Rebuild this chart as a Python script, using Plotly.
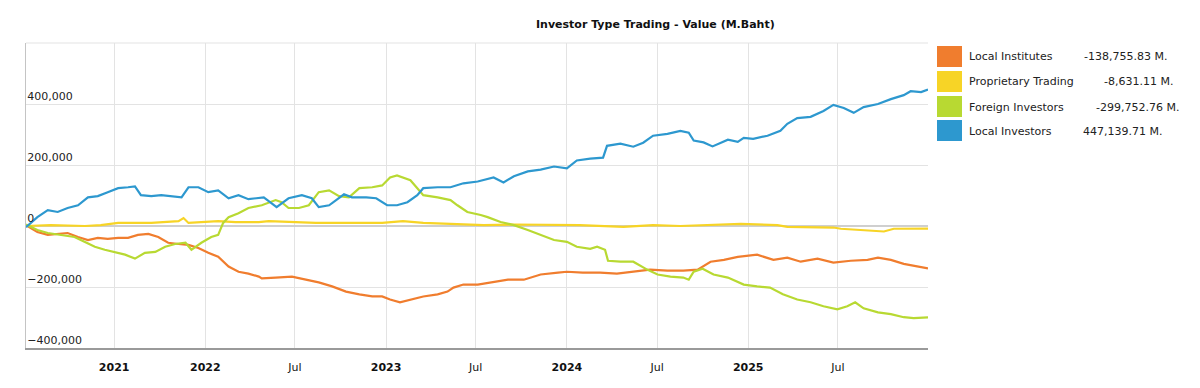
import plotly.graph_objects as go

# ---------------- data (M.Baht, cumulative net) ----------------
series_names = ["Local Institutes", "Proprietary Trading", "Foreign Investors", "Local Investors"]
latest_values = [-138755.83, -8631.11, -299752.76, 447139.71]
series_colors = ["#F07D2E", "#F7D426", "#B8D932", "#2D98CF"]

local_inst_dates = ["2021-01-04", "2021-01-27", "2021-02-17", "2021-03-09", "2021-03-29", "2021-04-19", "2021-05-09",
    "2021-05-29", "2021-06-18", "2021-07-09", "2021-07-29", "2021-08-18", "2021-09-08", "2021-09-28", "2021-10-18",
    "2021-11-08", "2021-11-28", "2021-12-18", "2022-01-07", "2022-01-27", "2022-02-17", "2022-03-09", "2022-03-29",
    "2022-04-19", "2022-04-25", "2022-05-23", "2022-06-25", "2022-07-23", "2022-08-18", "2022-09-14", "2022-10-12",
    "2022-11-08", "2022-12-04", "2022-12-24", "2023-01-09", "2023-01-29", "2023-02-19", "2023-03-17", "2023-04-15",
    "2023-05-05", "2023-05-17", "2023-06-06", "2023-07-05", "2023-07-31", "2023-09-04", "2023-10-06", "2023-11-09",
    "2023-12-14", "2024-01-01", "2024-02-02", "2024-03-08", "2024-04-11", "2024-05-14", "2024-06-17", "2024-07-22",
    "2024-08-23", "2024-09-21", "2024-10-17", "2024-11-13", "2024-12-11", "2025-01-19", "2025-02-21", "2025-03-21",
    "2025-04-17", "2025-05-21", "2025-06-22", "2025-07-27", "2025-08-30", "2025-09-20", "2025-10-16", "2025-11-11",
    "2025-12-10", "2025-12-30"]
local_inst_values = [3000, -20000, -29000, -26000, -23000, -36000, -46000,
    -39000, -42000, -39000, -39000, -29000, -26000, -36000, -55000,
    -59000, -62000, -72000, -88000, -101000, -133000, -150000, -156000,
    -166000, -172000, -169000, -166000, -176000, -185000, -198000, -215000,
    -224000, -231000, -231000, -241000, -250000, -241000, -231000, -224000,
    -215000, -202000, -192000, -192000, -185000, -176000, -176000, -159000,
    -153000, -150000, -153000, -153000, -156000, -150000, -143000, -146000,
    -146000, -143000, -117000, -111000, -101000, -94000, -111000, -104000,
    -117000, -107000, -120000, -114000, -111000, -104000, -111000, -124000,
    -133000, -138755.83]

prop_dates = ["2021-01-04", "2021-02-23", "2021-05-03", "2021-06-04", "2021-07-09", "2021-09-14", "2021-11-08",
    "2021-11-18", "2021-11-28", "2022-01-27", "2022-03-03", "2022-04-19", "2022-05-09", "2022-08-12", "2022-10-18",
    "2022-12-24", "2023-02-04", "2023-03-17", "2023-05-11", "2023-07-17", "2023-09-16", "2023-11-23", "2024-01-27",
    "2024-04-24", "2024-06-23", "2024-08-17", "2024-09-27", "2024-12-17", "2025-03-01", "2025-03-21", "2025-06-22",
    "2025-07-07", "2025-10-02", "2025-10-22", "2025-12-30"]
prop_values = [0, 3000, 0, 3000, 10000, 10000, 16000,
    26000, 10000, 16000, 13000, 13000, 16000, 10000, 10000,
    10000, 16000, 10000, 7000, 3000, 5000, 3000, 3000,
    -3000, 3000, 0, 3000, 7000, 3000, -3000, -5000,
    -9000, -18000, -9000, -8631.11]

foreign_dates = ["2021-01-04", "2021-01-27", "2021-02-17", "2021-03-15", "2021-04-12", "2021-05-02", "2021-05-23",
    "2021-06-12", "2021-07-03", "2021-07-23", "2021-08-12", "2021-09-01", "2021-09-22", "2021-10-12", "2021-11-01",
    "2021-11-22", "2021-12-04", "2021-12-24", "2022-01-13", "2022-01-27", "2022-02-06", "2022-02-17", "2022-03-09",
    "2022-03-29", "2022-04-25", "2022-05-23", "2022-06-04", "2022-06-18", "2022-07-09", "2022-07-29", "2022-08-18",
    "2022-09-08", "2022-09-28", "2022-10-18", "2022-11-08", "2022-12-04", "2022-12-24", "2023-01-09", "2023-01-23",
    "2023-02-04", "2023-02-19", "2023-03-05", "2023-03-17", "2023-04-15", "2023-05-11", "2023-05-25", "2023-06-14",
    "2023-07-11", "2023-07-25", "2023-08-20", "2023-09-16", "2023-10-14", "2023-11-09", "2023-12-06", "2024-01-01",
    "2024-01-21", "2024-02-17", "2024-03-02", "2024-03-18", "2024-03-24", "2024-04-18", "2024-05-14", "2024-06-11",
    "2024-07-02", "2024-07-28", "2024-08-23", "2024-09-03", "2024-09-13", "2024-10-01", "2024-10-23", "2024-11-21",
    "2024-12-23", "2025-01-19", "2025-02-14", "2025-03-12", "2025-04-10", "2025-05-07", "2025-06-02", "2025-06-30",
    "2025-07-20", "2025-08-05", "2025-08-22", "2025-09-20", "2025-10-16", "2025-11-11", "2025-12-01", "2025-12-30"]
foreign_values = [5000, -13000, -23000, -29000, -36000, -52000, -68000,
    -78000, -85000, -94000, -107000, -88000, -85000, -68000, -59000,
    -55000, -78000, -55000, -36000, -29000, 10000, 29000, 42000,
    59000, 68000, 85000, 78000, 59000, 59000, 68000, 111000,
    117000, 98000, 94000, 124000, 127000, 133000, 159000, 166000,
    159000, 150000, 124000, 101000, 94000, 85000, 68000, 46000,
    36000, 29000, 13000, 3000, -13000, -29000, -46000, -52000,
    -68000, -75000, -68000, -78000, -114000, -117000, -117000, -143000,
    -159000, -166000, -169000, -176000, -150000, -140000, -159000, -169000,
    -192000, -198000, -202000, -224000, -241000, -250000, -263000, -273000,
    -263000, -250000, -270000, -283000, -289000, -299000, -302000, -299752.76]

local_inv_dates = ["2021-01-04", "2021-01-27", "2021-02-17", "2021-03-09", "2021-03-29", "2021-04-19", "2021-05-09",
    "2021-05-29", "2021-06-18", "2021-07-09", "2021-07-29", "2021-08-12", "2021-08-24", "2021-09-14", "2021-10-04",
    "2021-10-24", "2021-11-14", "2021-11-28", "2021-12-18", "2022-01-07", "2022-01-27", "2022-02-17", "2022-03-09",
    "2022-03-29", "2022-04-19", "2022-04-29", "2022-05-25", "2022-06-18", "2022-07-15", "2022-08-04", "2022-08-18",
    "2022-09-08", "2022-10-08", "2022-10-24", "2022-11-22", "2022-12-12", "2023-01-03", "2023-01-23", "2023-02-13",
    "2023-03-05", "2023-03-17", "2023-04-15", "2023-05-11", "2023-06-06", "2023-07-05", "2023-07-31", "2023-08-06",
    "2023-08-26", "2023-09-16", "2023-10-14", "2023-11-09", "2023-12-06", "2024-01-01", "2024-01-21", "2024-02-17",
    "2024-03-14", "2024-03-22", "2024-04-18", "2024-05-14", "2024-06-03", "2024-06-23", "2024-07-22", "2024-08-17",
    "2024-09-03", "2024-09-13", "2024-10-03", "2024-10-21", "2024-11-07", "2024-11-21", "2024-12-11", "2024-12-23",
    "2025-01-11", "2025-02-09", "2025-03-07", "2025-03-21", "2025-04-10", "2025-05-07", "2025-06-02", "2025-06-22",
    "2025-07-13", "2025-08-02", "2025-08-22", "2025-09-20", "2025-10-16", "2025-11-11", "2025-11-25", "2025-12-16",
    "2025-12-30"]
local_inv_values = [-4000, 29000, 52000, 46000, 59000, 68000, 94000,
    98000, 111000, 124000, 127000, 130000, 101000, 98000, 101000,
    98000, 94000, 127000, 127000, 111000, 117000, 91000, 101000,
    88000, 91000, 94000, 62000, 91000, 101000, 91000, 62000,
    68000, 104000, 94000, 94000, 91000, 68000, 68000, 78000,
    101000, 124000, 127000, 127000, 140000, 146000, 156000, 159000,
    143000, 163000, 179000, 185000, 195000, 189000, 215000, 221000,
    224000, 263000, 270000, 260000, 273000, 296000, 302000, 312000,
    306000, 280000, 274000, 261000, 273000, 283000, 276000, 289000,
    286000, 296000, 312000, 335000, 354000, 358000, 377000, 397000,
    387000, 371000, 390000, 400000, 416000, 429000, 442000, 439000,
    447139.71]

x_tick_vals = ["2021-07-01", "2022-01-01", "2022-07-01", "2023-01-01", "2023-07-01",
               "2024-01-01", "2024-07-01", "2025-01-01", "2025-07-01"]
x_tick_text = ["<b>2021</b>", "<b>2022</b>", "Jul", "<b>2023</b>", "Jul",
               "<b>2024</b>", "Jul", "<b>2025</b>", "Jul"]
y_tick_vals = [-400000, -200000, 0, 200000, 400000]

# ---------------- figure ----------------
W, H = 1200, 388
ML, MR, MT, MB = 26, 272, 43, 40
PW, PH = W - ML - MR, H - MT - MB

def px_x(p):
    return (p - ML) / PW

def px_y(p):
    return (H - MB - p) / PH

FONT = "DejaVu Sans, Verdana, sans-serif"

fig = go.Figure()
all_dates = [local_inst_dates, prop_dates, foreign_dates, local_inv_dates]
all_vals = [local_inst_values, prop_values, foreign_values, local_inv_values]
for name, d, v, c in zip(series_names, all_dates, all_vals, series_colors):
    fig.add_trace(go.Scatter(x=d, y=v, mode="lines", name=name,
                             line=dict(color=c, width=2.2), showlegend=False))

# custom legend (square swatches + name + latest value)
row_top = [46, 71, 96, 120]
val_x = [1082, 1102, 1094, 1081]
shapes = []
annotations = []
for i, (name, val, c) in enumerate(zip(series_names, latest_values, series_colors)):
    t = row_top[i]
    shapes.append(dict(type="rect", xref="paper", yref="paper",
                       x0=px_x(937), x1=px_x(962), y0=px_y(t + 21), y1=px_y(t),
                       fillcolor=c, line=dict(width=0)))
    annotations.append(dict(xref="paper", yref="paper", x=px_x(967), y=px_y(t + 11),
                            xanchor="left", yanchor="middle", showarrow=False,
                            text=name, font=dict(family=FONT, size=11, color="#222")))
    annotations.append(dict(xref="paper", yref="paper", x=px_x(val_x[i]), y=px_y(t + 11),
                            xanchor="left", yanchor="middle", showarrow=False,
                            text=f"{val:,.2f} M.", font=dict(family=FONT, size=11, color="#222")))

# title
annotations.append(dict(xref="paper", yref="paper", x=px_x(655), y=px_y(24),
                        xanchor="center", yanchor="middle", showarrow=False,
                        text="<b>Investor Type Trading - Value (M.Baht)</b>",
                        font=dict(family=FONT, size=11, color="#111")))

# top border of plot
shapes.append(dict(type="line", xref="paper", yref="paper", x0=0, x1=1, y0=1, y1=1,
                   line=dict(color="#e3e3e3", width=1)))

fig.update_layout(
    width=W, height=H,
    margin=dict(l=ML, r=MR, t=MT, b=MB),
    paper_bgcolor="white", plot_bgcolor="white",
    font=dict(family=FONT, size=11, color="#222"),
    shapes=shapes, annotations=annotations,
    showlegend=False,
    hovermode=False,
)
fig.update_xaxes(
    type="date", range=["2021-01-04", "2025-12-30"],
    tickvals=x_tick_vals, ticktext=x_tick_text,
    showgrid=True, gridcolor="#e3e3e3", gridwidth=1,
    showline=True, linecolor="#9a9a9a", linewidth=1.5,
    ticks="", ticklabelstandoff=8,
    tickfont=dict(family=FONT, size=11, color="#111"),
    zeroline=False,
)
fig.update_yaxes(
    range=[-400000, 600000],
    tickvals=y_tick_vals, tickformat=",d",
    ticklabelposition="inside top",
    showgrid=True, gridcolor="#e3e3e3", gridwidth=1,
    zeroline=True, zerolinecolor="#cfcfcf", zerolinewidth=2,
    showline=True, linecolor="#c4c4c4", linewidth=1,
    ticks="",
    tickfont=dict(family=FONT, size=11, color="#222"),
)

fig.write_html("out.html", config={"displayModeBar": False},
               post_script="document.body.style.margin='0';")
